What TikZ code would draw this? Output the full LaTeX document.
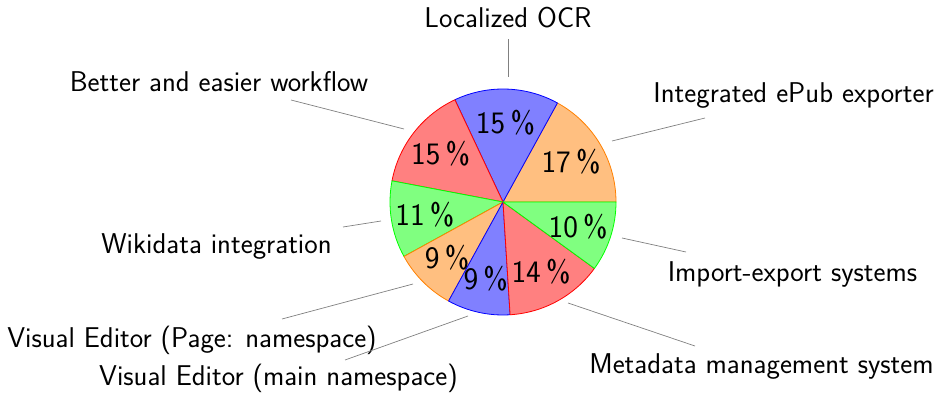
\documentclass[tikz,border=0pt]{standalone}
\usepackage{fontspec}
\usetikzlibrary{calc}
\begin{document}
\begin{tikzpicture}[x=1pt,y=-1pt,
  wedge/.style={line width=0.8pt, line join=round},
  pct/.style={font=\fontsize{31.2}{33}\sffamily, inner sep=0pt, text=black},
  lbl/.style={font=\fontsize{28.6}{32}\sffamily, inner sep=0pt, anchor=base, text=black},
  pinline/.style={draw=gray, line width=0.7pt}]
\useasboundingbox (0,0) rectangle (936,395);
\coordinate (c) at (503,202);
\def\R{113}
% wedges (angles negated because y points down)
\filldraw[wedge, draw=orange, fill=orange!50] (c) -- ++(0:\R) arc[start angle=0, end angle=-61.2, radius=\R] -- cycle;
\filldraw[wedge, draw=blue, fill=blue!50] (c) -- ++(-61.2:\R) arc[start angle=-61.2, end angle=-115.2, radius=\R] -- cycle;
\filldraw[wedge, draw=red, fill=red!50] (c) -- ++(-115.2:\R) arc[start angle=-115.2, end angle=-169.2, radius=\R] -- cycle;
\filldraw[wedge, draw=green, fill=green!50] (c) -- ++(-169.2:\R) arc[start angle=-169.2, end angle=-208.8, radius=\R] -- cycle;
\filldraw[wedge, draw=orange, fill=orange!50] (c) -- ++(-208.8:\R) arc[start angle=-208.8, end angle=-241.2, radius=\R] -- cycle;
\filldraw[wedge, draw=blue, fill=blue!50] (c) -- ++(-241.2:\R) arc[start angle=-241.2, end angle=-273.6, radius=\R] -- cycle;
\filldraw[wedge, draw=red, fill=red!50] (c) -- ++(-273.6:\R) arc[start angle=-273.6, end angle=-324, radius=\R] -- cycle;
\filldraw[wedge, draw=green, fill=green!50] (c) -- ++(-324:\R) arc[start angle=-324, end angle=-360, radius=\R] -- cycle;
% percentages
\node[pct] (p1) at ($(c)+(-30.6:79)$) {17\,\%};
\node[pct] (p2) at ($(c)+(-88.2:79)$) {15\,\%};
\node[pct] (p3) at ($(c)+(-142.2:79)$) {15\,\%};
\node[pct] (p4) at ($(c)+(-189:79)$) {11\,\%};
\node[pct] (p5) at ($(c)+(-225:79)$) {9\,\%};
\node[pct] (p6) at ($(c)+(-257.4:79)$) {9\,\%};
\node[pct] (p7) at ($(c)+(-298.8:79)$) {14\,\%};
\node[pct] (p8) at ($(c)+(-342:79)$) {10\,\%};
% labels
\node[lbl] (l1) at (508,28) {Localized OCR};
\node[lbl] (l2) at (793.5,103) {Integrated ePub exporter};
\node[lbl] (l3) at (792.5,281) {Import-export systems};
\node[lbl] (l4) at (761.5,373) {Metadata management system};
\node[lbl] (l5) at (278.5,385.5) {Visual Editor (main namespace)};
\node[lbl] (l6) at (192,347) {Visual Editor (Page: namespace)};
\node[lbl] (l7) at (216.5,253) {Wikidata integration};
\node[lbl] (l8) at (219,92) {Better and easier workflow};
% pin coordinates
\coordinate (a1) at (508,77);  \coordinate (b1) at (508,39);
\coordinate (a2) at (612,141); \coordinate (b2) at (705,118);
\coordinate (a3) at (622,238); \coordinate (b3) at (686,252);
\coordinate (a4) at (568,303); \coordinate (b4) at (695,346);
\coordinate (a5) at (468,316); \coordinate (b5) at (345,360);
\coordinate (a6) at (413,284); \coordinate (b6) at (282,319);
\coordinate (a7) at (381,221); \coordinate (b7) at (343,227);
\coordinate (a8) at (404,129); \coordinate (b8) at (291,100);
\foreach \i in {1,...,8} { \draw[pinline] (a\i) -- (b\i); }
\end{tikzpicture}
\end{document}
